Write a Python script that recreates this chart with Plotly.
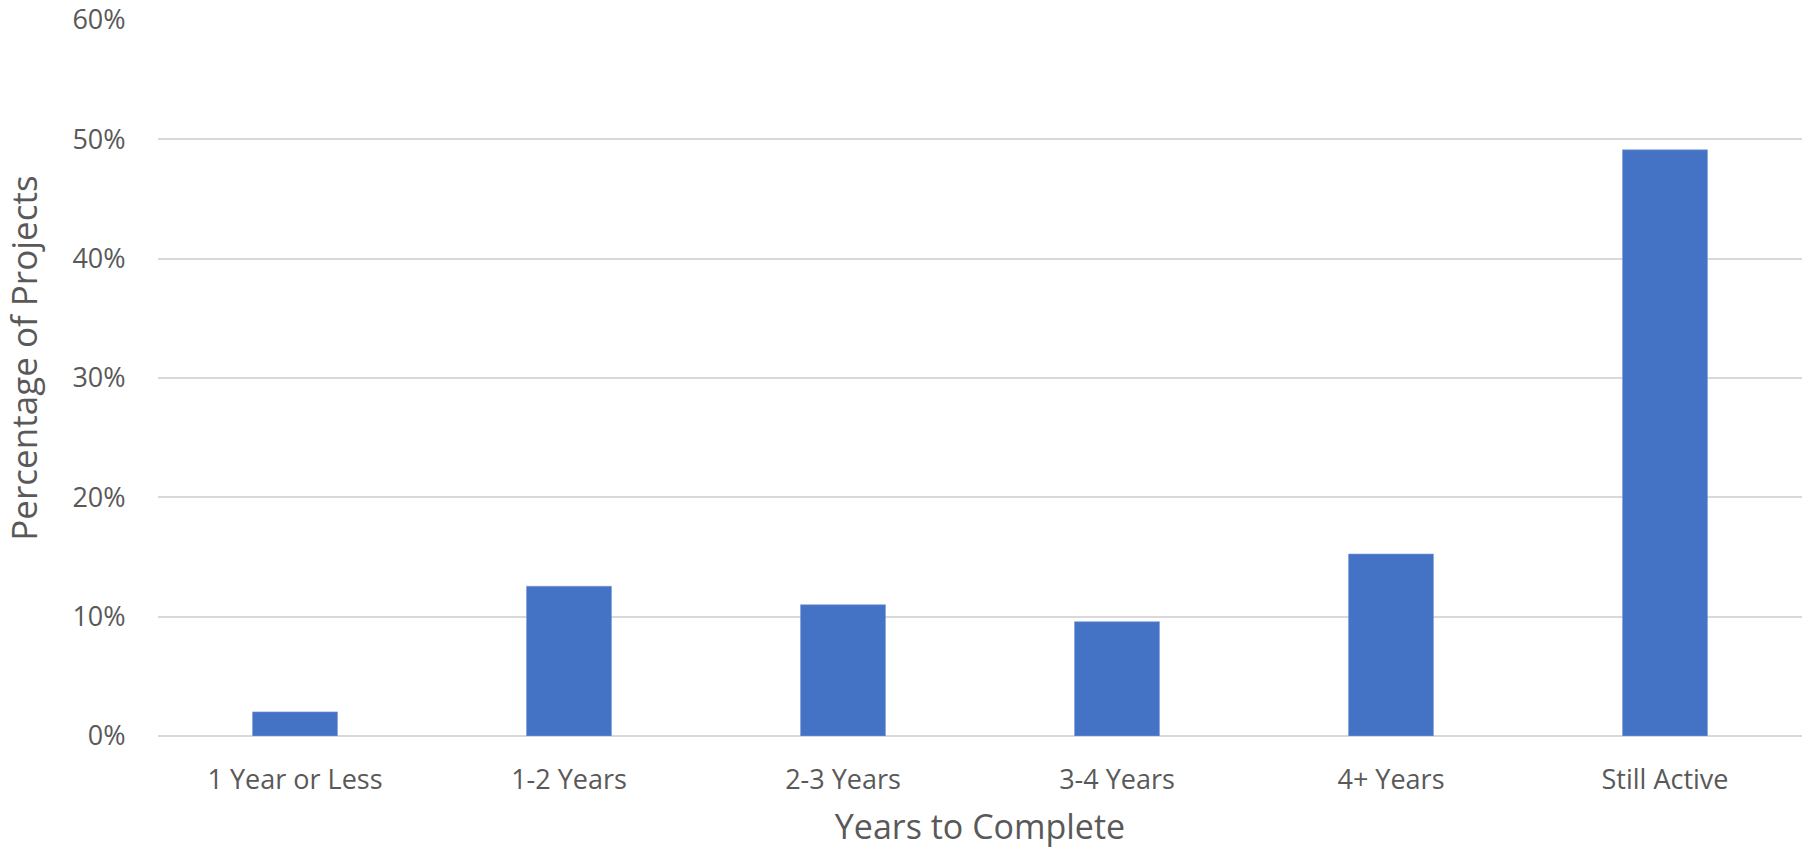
import plotly.graph_objects as go

categories = ["1 Year or Less", "1-2 Years", "2-3 Years", "3-4 Years", "4+ Years", "Still Active"]
values = [0.0202, 0.1255, 0.110, 0.0958, 0.1525, 0.4912]
y_ticks = [0, 0.1, 0.2, 0.3, 0.4, 0.5, 0.6]

TEXT = "#595959"
FONT = "Open Sans"

fig = go.Figure(go.Bar(
    x=categories, y=values,
    marker=dict(color="#4472C4", line=dict(color="#7B9BD6", width=0.6)),
))

fig.update_layout(
    width=1808, height=852,
    margin=dict(l=158, r=6, t=20, b=116, autoexpand=False),
    paper_bgcolor="white", plot_bgcolor="white",
    bargap=0.69,
    showlegend=False,
    font=dict(family=FONT, color=TEXT),
    annotations=[dict(
        text="Percentage of Projects", textangle=-90,
        xref="paper", yref="paper", x=-0.0815, y=0.527,
        xanchor="center", yanchor="middle", showarrow=False,
        font=dict(size=35, color=TEXT, family=FONT),
    )],
)
fig.update_xaxes(
    automargin=False,
    showgrid=False, showline=False, zeroline=False,
    tickfont=dict(size=27, color=TEXT, family=FONT),
    ticks="outside", ticklen=20, tickcolor="rgba(0,0,0,0)",
    title=dict(text="Years to Complete", font=dict(size=34, color=TEXT, family=FONT), standoff=18),
)
fig.update_yaxes(
    automargin=False,
    range=[0, 0.6], tickvals=y_ticks, tickformat=".0%",
    showgrid=True, gridcolor="#D9D9D9", gridwidth=2.2,
    zeroline=True, zerolinecolor="#D9D9D9", zerolinewidth=2.2,
    showline=False,
    tickfont=dict(size=27, color=TEXT, family=FONT),
    ticks="outside", ticklen=26, tickcolor="rgba(0,0,0,0)",
)

fig.write_html("out.html")
